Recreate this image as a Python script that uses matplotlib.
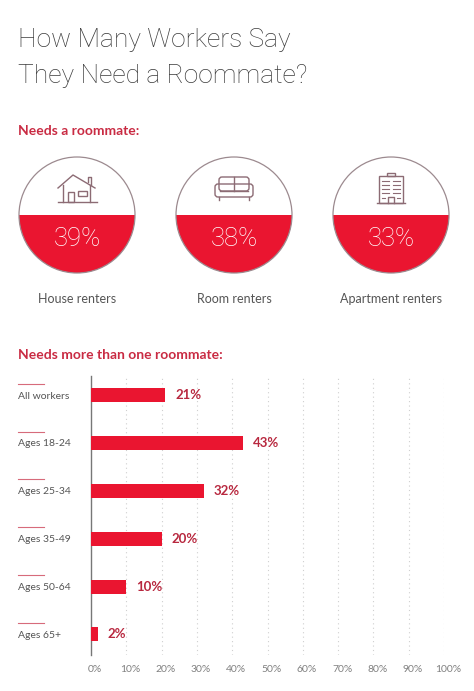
import matplotlib
matplotlib.use("Agg")
import matplotlib.pyplot as plt
import matplotlib.transforms as mtransforms
from matplotlib.patches import Circle, Wedge, Rectangle, FancyBboxPatch

# Data
circle_labels = ["House renters", "Room renters", "Apartment renters"]
circle_values = [39, 38, 33]
groups = ["All workers", "Ages 18-24", "Ages 25-34", "Ages 35-49", "Ages 50-64", "Ages 65+"]
group_values = [21, 43, 32, 20, 10, 2]
x_ticks = [0, 10, 20, 30, 40, 50, 60, 70, 80, 90, 100]

RED = "#ea1530"
DARK_RED = "#b8283f"
HEAD_RED = "#c92b43"
ICON = "#8c6b74"
GRAY = "#3c3c3c"

fig = plt.figure(figsize=(4.74, 6.91), dpi=100)
fig.patch.set_facecolor("white")

# canvas in pixel coords for the top part
cv = fig.add_axes([0, 0, 1, 1])
cv.set_xlim(0, 474)
cv.set_ylim(691, 0)
cv.axis("off")

cv.text(18, 47, "How Many Workers Say", fontsize=19, family="Roboto",
        fontweight="light", color=GRAY, va="baseline")
cv.text(18, 83, "They Need a Roommate?", fontsize=19, family="Roboto",
        fontweight="light", color=GRAY, va="baseline")
cv.text(18, 135, "Needs a roommate:", fontsize=10, family="Lato",
        fontweight="bold", color=HEAD_RED, va="baseline")
cv.text(18, 359, "Needs more than one roommate:", fontsize=10, family="Lato",
        fontweight="bold", color=HEAD_RED, va="baseline")

centers = [77, 234, 391]
cy = 215
r = 58
for cx, val, lab in zip(centers, circle_values, circle_labels):
    cv.add_patch(Wedge((cx, cy), r, 0, 180, facecolor=RED, edgecolor="none"))
    cv.add_patch(Circle((cx, cy), r, facecolor="none", edgecolor="#9c8a8f", lw=0.9))
    cv.text(cx, 239, f"{val}%", fontsize=18.5, family="Roboto", fontweight="light",
            color="white", ha="center", va="center")
    cv.text(cx, 299, lab, fontsize=9, family="Lato", color="#555555",
            ha="center", va="center")

# icons
lw = 1.0
# house
hx = centers[0]
cv.plot([hx - 19, hx - 4, hx + 18], [188, 175, 188], color=ICON, lw=lw)
cv.plot([hx + 11, hx + 11, hx + 14, hx + 14], [182, 177, 177, 185], color=ICON, lw=lw)
cv.plot([hx - 14, hx - 14], [185, 202], color=ICON, lw=lw)
cv.plot([hx + 13, hx + 13], [185, 202], color=ICON, lw=lw)
cv.plot([hx - 19, hx + 20], [202, 202], color=ICON, lw=lw)
cv.add_patch(Rectangle((hx - 9, 192), 6, 10, fill=False, edgecolor=ICON, lw=lw))
cv.add_patch(Rectangle((hx + 1, 191), 9, 5, fill=False, edgecolor=ICON, lw=lw))
# sofa
sx = centers[1]
cv.add_patch(FancyBboxPatch((sx - 15, 177), 30, 14, boxstyle="round,pad=0,rounding_size=3",
                            fill=False, edgecolor=ICON, lw=lw))
cv.add_patch(FancyBboxPatch((sx - 19, 184), 38, 13, boxstyle="round,pad=0,rounding_size=3",
                            fill=False, edgecolor=ICON, lw=lw))
cv.plot([sx, sx], [177, 191], color=ICON, lw=lw)
cv.plot([sx - 14, sx + 14], [191, 191], color=ICON, lw=lw)
cv.plot([sx - 15, sx - 15], [197, 200], color=ICON, lw=lw)
cv.plot([sx + 15, sx + 15], [197, 200], color=ICON, lw=lw)
# building
bx = centers[2]
cv.add_patch(Rectangle((bx - 4, 173), 8, 3, fill=False, edgecolor=ICON, lw=lw))
cv.add_patch(Rectangle((bx - 12, 176), 24, 27, fill=False, edgecolor=ICON, lw=lw))
for yy in [181, 185, 189, 193]:
    cv.plot([bx - 9, bx - 2], [yy, yy], color=ICON, lw=0.8)
    cv.plot([bx + 2, bx + 9], [yy, yy], color=ICON, lw=0.8)
cv.plot([bx - 3, bx - 3, bx + 3, bx + 3], [203, 197, 197, 203], color=ICON, lw=lw)
cv.plot([bx - 9, bx - 6], [198, 198], color=ICON, lw=0.8)
cv.plot([bx + 6, bx + 9], [198, 198], color=ICON, lw=0.8)
cv.plot([bx - 14, bx + 14], [203, 203], color=ICON, lw=lw)

# bar chart
ax = fig.add_axes([91 / 474, 1 - 655 / 691, (444 - 91) / 474, (655 - 376) / 691])
ypos = list(range(len(groups)))
ax.barh(ypos, group_values, height=0.29, color=RED, zorder=3)
ax.set_xlim(0, 100)
ax.set_ylim(len(groups) - 0.57, -0.40)
ax.set_xticks(x_ticks)
ax.set_xticklabels([f"{t}%" for t in x_ticks], fontsize=7.5, family="Lato", color="#808080")
ax.tick_params(axis="x", length=0, pad=7)
shift = mtransforms.ScaledTranslation(4 / 100, 0, fig.dpi_scale_trans)
for lbl in ax.get_xticklabels():
    lbl.set_transform(lbl.get_transform() + shift)
ax.set_yticks([])
for t in x_ticks[1:]:
    ax.axvline(t, color="#cfcfcf", lw=0.8, ls=(0, (1, 3)), zorder=1)
for s in ["top", "right", "bottom"]:
    ax.spines[s].set_visible(False)
ax.spines["left"].set_color("#777777")
ax.spines["left"].set_linewidth(1.0)

for y, v in zip(ypos, group_values):
    ax.text(v + 2.8, y, f"{v}%", fontsize=9.5, family="Lato", fontweight="bold",
            color=DARK_RED, va="center", ha="left")

trans = mtransforms.blended_transform_factory(fig.transFigure, ax.transData)
for y, g in zip(ypos, groups):
    ax.text(18 / 474, y + 0.02, g, transform=trans, fontsize=7.5, family="Lato",
            color="#555555", va="center", ha="left", clip_on=False)
    ax.plot([18 / 474, 44 / 474], [y - 0.24, y - 0.24], transform=trans,
            color="#d76b7b", lw=0.8, clip_on=False)

fig.savefig("out.png", dpi=100, facecolor="white")
